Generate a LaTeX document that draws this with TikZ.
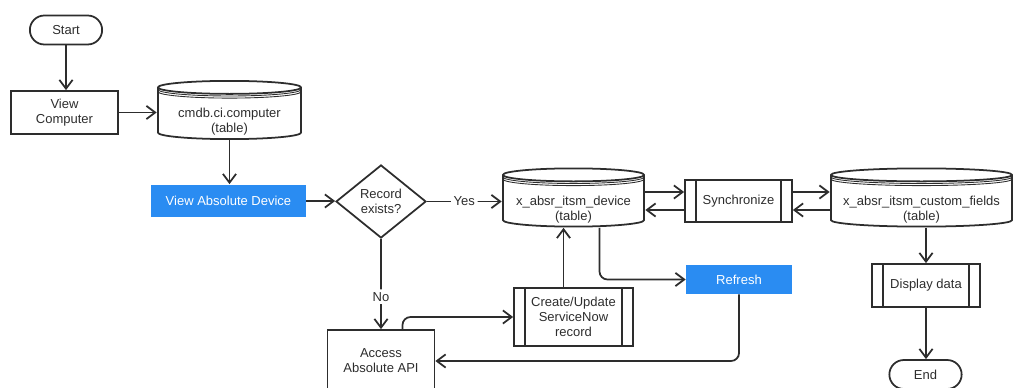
\documentclass[tikz,border=0pt]{standalone}
\usepackage{fontspec}
\setmainfont{Liberation Sans}
\usetikzlibrary{shapes.geometric,shapes.misc,arrows.meta}
\definecolor{flowblue}{RGB}{42,140,242}
\definecolor{flowline}{RGB}{45,45,45}
\tikzset{
  every node/.style={font=\fontsize{7.4}{8.6}\selectfont, text=flowline, align=center},
  term/.style={rounded rectangle, draw=flowline, line width=1pt, minimum width=1.68cm, minimum height=0.58cm},
  proc/.style={rectangle, draw=flowline, line width=1pt},
  action/.style={rectangle, fill=flowblue, text=white},
  subproc/.style={rectangle, draw=flowline, line width=1pt,
    path picture={\draw[flowline, line width=1pt]
      ([xshift=0.22cm]path picture bounding box.north west) -- ([xshift=0.22cm]path picture bounding box.south west)
      ([xshift=-0.22cm]path picture bounding box.north east) -- ([xshift=-0.22cm]path picture bounding box.south east);}},
  % table drawn as a cylinder with a striped lid
  dbtable/.style={rectangle, minimum width=#1, minimum height=1.2cm, inner sep=0pt, text height=27.5pt,
    path picture={
      \draw[flowline, line width=1pt]
        ([xshift=0.5pt, yshift=-0.5pt-0.13cm]path picture bounding box.north west)
        -- ([xshift=0.5pt, yshift=0.5pt+0.13cm]path picture bounding box.south west)
        arc[start angle=180, end angle=360, x radius=#1/2-0.5pt, y radius=0.13cm]
        -- ([xshift=-0.5pt, yshift=-0.5pt-0.13cm]path picture bounding box.north east)
        arc[start angle=0, end angle=360, x radius=#1/2-0.5pt, y radius=0.13cm];
      \foreach \k in {1.2pt,2.4pt}
        \draw[flowline, line width=0.5pt]
          ([xshift=0.5pt, yshift=-0.5pt-0.13cm-\k]path picture bounding box.north west)
          arc[start angle=180, end angle=360, x radius=#1/2-0.5pt, y radius=0.13cm];}},
  decision/.style={diamond, draw=flowline, line width=1pt, aspect=1.23, inner sep=0pt, minimum width=1.8cm, minimum height=1.46cm},
  flow/.style={-{Straight Barb[length=5pt,width=7.5pt]}, draw=flowline, line width=1pt, rounded corners=0.16cm},
  lbl/.style={fill=white, inner sep=1.5pt}
}
\begin{document}
\begin{tikzpicture}[x=0.02cm, y=-0.02cm]
	\useasboundingbox (0,0) rectangle (1014,388);
	\node[term] (start) at (66,30) {Start};
	\node[proc, minimum width=2.14cm, minimum height=0.86cm] (viewcomp) at (64.5,112.5) {View\\Computer};
	\node[dbtable=2.9cm] (cmdb) at (229.5,110) {cmdb.ci.computer\\(table)};
	\node[action, minimum width=3.1cm, minimum height=0.66cm] (viewabs) at (228.5,201) {View Absolute Device};
	\node[decision] (record) at (381,201.5) {Record\\exists?};
	\node[dbtable=2.86cm] (devtab) at (573.5,197.5) {x\_absr\_itsm\_device\\(table)};
	\node[subproc, minimum width=2.14cm, minimum height=0.84cm] (sync) at (738.5,201) {Synchronize};
	\node[dbtable=3.66cm] (custtab) at (921.5,197.5) {x\_absr\_itsm\_custom\_fields\\(table)};
	\node[subproc, minimum width=2.16cm, minimum height=0.86cm] (display) at (926,285.5) {Display data};
	\node[term] (endnode) at (925.5,374.5) {End};
	\node[action, minimum width=2.12cm, minimum height=0.58cm] (refresh) at (739,279.5) {Refresh};
	\node[subproc, minimum width=2.38cm, minimum height=1.16cm] (create) at (573.5,317) {Create/Update\\ServiceNow\\record};
	\node[proc, minimum width=2.14cm, minimum height=1.24cm] (access) at (381,361) {Access\\Absolute API};

	\draw[flow] (start.south) -- (start.south |- viewcomp.north);
	\draw[flow] (viewcomp.east) -- (viewcomp.east -| cmdb.west);
	\draw[flow] (cmdb.south) -- (cmdb.south |- viewabs.north);
	\draw[flow] (viewabs.east) -- (viewabs.east -| record.west);
	\draw[flow] (record.east) -- node[lbl] {Yes} (record.east -| devtab.west);
	\draw[flow] (record.south) -- node[lbl, pos=0.64] {No} (record.south |- access.north);
	\draw[flow] ([yshift=0.18cm]sync.west -| devtab.east) -- ([yshift=0.18cm]sync.west);
	\draw[flow] ([yshift=-0.18cm]sync.west) -- ([yshift=-0.18cm]sync.west -| devtab.east);
	\draw[flow] ([yshift=0.18cm]sync.east) -- ([yshift=0.18cm]sync.east -| custtab.west);
	\draw[flow] ([yshift=-0.18cm]sync.east -| custtab.west) -- ([yshift=-0.18cm]sync.east);
	\draw[flow] (display.north |- custtab.south) -- (display.north);
	\draw[flow] (display.south) -- (display.south |- endnode.north);
	\draw[flow] ([xshift=0.52cm]devtab.south) |- (refresh.west);
	\draw[flow] (refresh.south) |- (access.east);
	\draw[flow] ([xshift=0.43cm]access.north) |- (create.west);
	\draw[flow] ([xshift=-0.2cm]create.north) -- ([xshift=-0.2cm]create.north |- devtab.south);
\end{tikzpicture}
\end{document}
